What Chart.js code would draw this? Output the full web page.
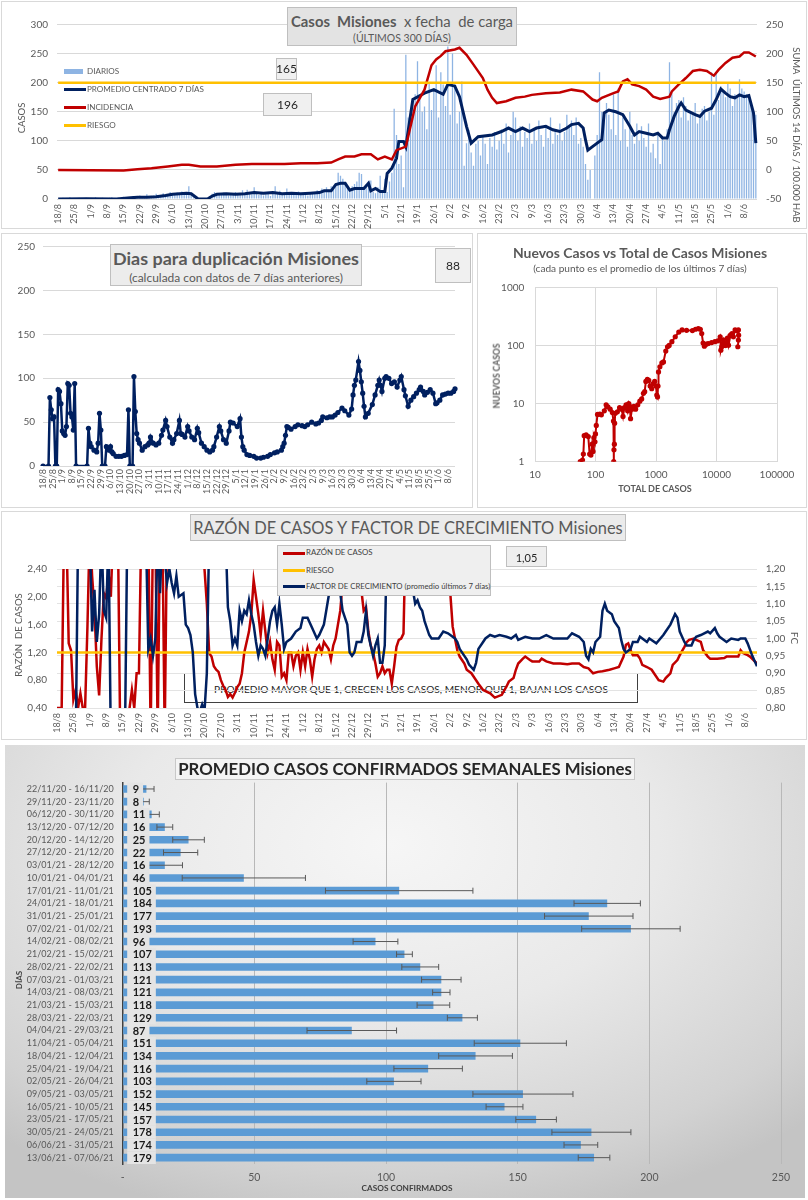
<!DOCTYPE html>
<html><head><meta charset="utf-8">
<script src="https://cdn.jsdelivr.net/npm/chart.js@4.4.0/dist/chart.umd.min.js"></script>
<style>
body{margin:0;width:808px;height:1200px;position:relative;background:#fff;overflow:hidden}
canvas{position:absolute;z-index:2}
</style></head><body>
<script>
// ---------------- DATA ----------------
const weekTicks = ['18/8','25/8','1/9','8/9','15/9','22/9','29/9','6/10','13/10','20/10','27/10','3/11','10/11','17/11','24/11','1/12','8/12','15/12','22/12','29/12','5/1','12/1','19/1','26/1','2/2','9/2','16/2','23/2','2/3','9/3','16/3','23/3','30/3','6/4','13/4','20/4','27/4','4/5','11/5','18/5','25/5','1/6','8/6'];

// casos diarios (barras)
const diarios = [
1,0,2,0,1,3,0,1,0,2, 1,0,2,1,0,1,3,0,1,2, 0,1,2,3,1,0,2,1,4,2,
3,2,5,4,3,6,2,4,8,5, 4,6,9,5,7,10,6,8,12,7, 9,11,8,13,10,12,22,8,3,0,
0,0,1,0,0,5,9,12,8,10, 7,11,9,6,10,8,12,7,9,15, 10,16,12,8,20,9,7,11,6,8,
10,5,12,22,9,14,7,10,18,8, 9,11,7,13,8,10,12,6,9,11, 12,15,10,18,14,20,16,22,18,25,
45,40,35,28,20,15,22,26,30,45, 43,18,25,30,32,12,10,20,40,15, 35,12,30,45,155,110,60,75,20,248,
140,120,165,180,237,171,150,159,120,200, 153,185,230,140,218,197,160,262,145,250, 200,130,150,202,57,96,119,80,57,95,
100,75,110,95,60,105,90,115,85,100, 120,95,130,80,110,150,140,100,125,90, 115,105,130,95,120,100,135,110,90,125,
105,140,95,120,110,130,100,115,145,125, 135,110,140,95,105,90,60,33,50,0, 75,110,218,150,140,165,145,120,180,110,
190,100,140,120,90,150,110,95,130,100, 125,105,90,130,80,95,70,110,60,105, 100,120,235,182,150,165,170,140,175,160,
135,150,145,165,130,140,155,160,135,150, 218,145,215,170,194,185,175,200,190,160, 180,175,206,190,185,180,175,165,140,145];

// promedio centrado 7 días [día, valor]
const promedio7 = [[0,0],[12,0.5],[25,0],[31,2],[34,3],[38,3],[42,4],[46,6],[49,8],[52,9],[55,10],[57,9],[59,3],[60,0],[64,0],[66,5],[68,8],[72,9],[76,8],[80,9],[84,11],[88,10],[92,11],[96,9],[100,10],[104,9],[108,10],[112,11],[114,14],[117,14],[119,25],[121,27],[123,27],[125,15],[127,18],[131,18],[133,27],[134,14],[136,18],[138,13],[140,13],[141,44],[143,53],[145,70],[146,99],[148,99],[149,90],[152,171],[157,182],[161,188],[165,180],[167,197],[170,194],[172,176],[175,125],[177,96],[180,107],[186,110],[190,116],[193,122],[196,116],[199,122],[202,116],[205,122],[209,125],[212,119],[215,116],[218,122],[220,128],[223,130],[225,122],[226,102],[227,84],[229,90],[231,96],[233,102],[234,148],[236,153],[239,150],[242,145],[245,125],[247,110],[249,116],[252,113],[255,110],[257,113],[259,105],[261,105],[262,119],[264,142],[266,159],[267,165],[269,153],[273,145],[275,142],[277,151],[280,156],[282,171],[284,189],[286,182],[288,176],[290,174],[292,179],[294,176],[296,178],[298,148],[299,96]];

// incidencia: suma últimos 14 días / 100.000 hab [día, valor]
const incidencia = [[0,0],[28,-1],[34,1],[40,3],[47,6],[53,9],[56,9],[61,6],[68,6],[76,9],[83,10],[90,10],[97,10],[104,11.5],[111,11.5],[117,12.6],[120,18],[123,23],[127,23],[130,27],[134,27],[137,18],[140,23],[143,18],[145,34],[149,40],[153,109],[157,138],[160,180],[162,190],[164,196],[166,204],[170,207],[172,210],[175,198],[178,181],[182,158],[184,138],[186,124],[188,115],[192,118],[196,124],[200,126],[203,129],[209,132],[215,133],[220,138],[225,135],[229,121],[231,118],[233,124],[238,132],[240,135],[242,152],[244,156],[246,147],[249,144],[252,138],[255,126],[258,122],[262,126],[263,135],[266,147],[269,158],[272,170],[275,172],[278,170],[281,162],[283,172],[286,184],[289,193],[292,195],[294,202],[296,202],[299,195]];
const riesgoIncidencia = 150;
const casosDestacados = ['165','196'];

// días para duplicación [día, valor]
const duplicacion = [[0,0],[4,0],[5,78],[6,64],[7,54],[8,56],[9,0],[10,0],[11,87],[12,85],[13,71],[14,40],[15,37],[16,35],[17,45],[18,94],[19,92],[20,60],[21,56],[22,41],[23,94],[24,0],[32,0],[33,43],[34,26],[35,22],[37,18],[39,16],[40,26],[41,60],[42,41],[43,0],[45,0],[46,22],[48,18],[49,22],[50,16],[51,14],[53,11],[55,11],[57,11],[59,12],[61,13],[62,64],[63,0],[65,0],[66,102],[67,62],[68,37],[69,30],[70,26],[72,18],[74,22],[76,24],[77,26],[78,33],[80,26],[82,24],[84,26],[86,35],[87,41],[89,52],[90,45],[92,33],[94,26],[95,30],[97,37],[99,52],[100,37],[101,36],[103,33],[105,45],[106,40],[108,33],[110,30],[112,43],[113,38],[115,26],[117,22],[119,18],[121,16],[123,18],[124,22],[126,33],[128,45],[129,40],[131,30],[133,26],[135,40],[136,50],[138,49],[141,45],[143,54],[144,33],[145,22],[146,18],[148,13],[150,12],[153,11],[155,9],[158,9],[160,10],[163,11],[165,13],[168,15],[170,16],[173,18],[174,22],[175,26],[176,35],[177,45],[178,44],[180,42],[183,45],[185,47],[188,46],[190,45],[192,47],[195,50],[198,48],[200,49],[202,52],[203,56],[206,55],[208,56],[210,56],[212,58],[214,61],[217,66],[219,63],[222,58],[224,65],[225,81],[226,92],[227,98],[229,119],[230,109],[231,96],[232,83],[233,68],[234,56],[236,60],[239,70],[241,81],[243,92],[244,98],[245,92],[246,85],[248,100],[249,102],[251,100],[253,94],[255,96],[257,90],[259,98],[260,102],[262,87],[263,80],[265,68],[267,75],[269,79],[271,83],[273,87],[274,90],[276,85],[277,81],[279,84],[281,87],[283,83],[285,71],[286,72],[288,75],[290,81],[292,82],[294,83],[296,83],[298,85],[299,88]];
const duplicacionActual = '88';

// nuevos casos vs total [total, nuevos]
const nuevosVsTotal = [[56,1.0],[61,1.07],[63,1.35],[65,2.8],[70,2.9],[76,2.7],[80,1.35],[84,1.3],[88,2.0],[91,1.5],[94,2.6],[98,2.2],[100,3.0],[103,4.2],[108,6.5],[118,6.6],[125,6.4],[140,7.5],[150,9.5],[160,8.8],[175,8.0],[190,7.0],[198,5.0],[200,1.0],[202,1.6],[205,2.0],[207,4.6],[212,6.8],[230,7.2],[250,8.5],[270,8.0],[285,6.0],[300,8.5],[320,9.5],[340,7.5],[355,10],[370,9.0],[380,5.5],[400,8.0],[430,9.0],[460,8.0],[500,9.5],[540,11],[580,12],[620,15],[650,16],[680,24],[720,26],[760,25],[800,20],[850,18],[900,22],[950,24],[1000,20],[1030,14],[1060,13],[1080,20],[1100,35],[1160,43],[1250,50],[1330,52],[1450,80],[1550,95],[1650,100],[1830,116],[2080,141],[2380,170],[2700,185],[3200,182],[4000,180],[4500,190],[5000,195],[5400,190],[5700,160],[6000,110],[6300,97],[6800,105],[7300,108],[8300,112],[9400,116],[10500,120],[11500,141],[11800,83],[12200,95],[13000,124],[13500,110],[14000,100],[15000,133],[15800,101],[17000,150],[18000,160],[19000,141],[20300,185],[21500,180],[23000,185],[23200,150],[23000,124],[22500,95]];
const logXTicks = [10,100,1000,10000,100000];
const logYTicks = [1,10,100,1000];

// razón de casos y factor de crecimiento [día, valor]
const razon = [[0,0.4],[1,0.4],[2,0.4],[3,3],[4,3],[5,1.33],[6,1.23],[7,0.52],[8,0.66],[9,0.4],[10,0.61],[11,0.4],[12,0.4],[13,1.57],[14,3],[15,2.3],[16,1.81],[17,1.0],[18,0.58],[19,1.4],[20,2.05],[21,1.98],[22,2.34],[23,2.0],[24,3],[26,3],[27,0],[30,0],[31,0.4],[32,0.66],[33,0.4],[34,0.9],[35,0.9],[36,3],[39,3],[40,0],[41,3],[42,3],[43,0],[44,3],[45,3],[46,0],[47,3],[62,3],[63,2.4],[64,1.9],[65,1.19],[66,1.14],[67,1.0],[68,0.95],[69,0.92],[70,0.8],[71,0.72],[72,0.66],[73,0.56],[74,0.6],[75,0.55],[76,0.62],[77,0.7],[78,0.75],[79,0.9],[80,1.2],[81,1.35],[82,1.5],[83,1.75],[84,2.24],[85,2.0],[86,1.75],[87,1.45],[88,1.8],[89,1.5],[90,1.2],[91,1.35],[92,1.1],[93,0.95],[94,1.35],[95,1.3],[96,0.85],[97,0.9],[98,0.8],[99,1.2],[100,1.2],[101,1.0],[102,1.15],[103,1.2],[104,0.95],[105,1.2],[106,1.0],[107,1.25],[108,1.1],[109,0.85],[110,1.1],[111,1.25],[112,1.3],[113,1.2],[114,1.35],[115,1.3],[116,1.25],[117,1.1],[118,1.3],[119,1.4],[120,1.6],[121,1.8],[122,2.2],[123,3],[129,3],[130,2.1],[131,1.8],[132,1.85],[133,1.5],[134,1.3],[135,1.2],[136,1.04],[137,0.85],[138,0.9],[139,1.0],[140,0.9],[141,0.95],[142,0.95],[143,0.75],[144,1.0],[145,1.28],[146,1.38],[147,1.4],[148,1.47],[149,3],[167,3],[168,2.05],[169,1.57],[171,1.23],[172,1.14],[174,1.04],[175,0.95],[177,0.9],[178,0.85],[180,0.75],[182,0.66],[185,0.61],[187,0.55],[190,0.59],[192,0.71],[193,0.78],[195,0.83],[196,0.95],[197,1.04],[199,1.11],[200,1.14],[202,1.09],[203,1.07],[206,1.07],[207,1.11],[209,1.07],[212,1.04],[215,1.04],[218,1.03],[220,1.04],[223,1.04],[225,0.99],[227,0.97],[229,0.9],[231,0.92],[233,0.93],[236,0.95],[238,0.97],[240,0.99],[242,1.14],[243,1.31],[244,1.33],[245,1.23],[246,1.16],[248,1.16],[249,1.11],[250,1.02],[252,0.99],[254,0.95],[255,0.9],[257,0.8],[259,0.78],[260,0.83],[262,0.9],[263,1.02],[265,1.09],[266,1.16],[268,1.28],[269,1.35],[270,1.38],[272,1.4],[273,1.38],[275,1.35],[276,1.23],[278,1.14],[279,1.11],[282,1.11],[285,1.12],[286,1.14],[291,1.14],[292,1.23],[293,1.19],[295,1.16],[296,1.14],[299,1.04]];
const factor = [[0,0.7],[8,0.7],[9,1.3],[14,1.3],[15,1.02],[16,1.14],[17,0.99],[18,1.07],[19,1.3],[20,1.08],[21,1.06],[22,1.3],[23,0.7],[29,0.7],[30,1.3],[38,1.3],[39,0.97],[40,1.0],[41,0.95],[42,1.0],[43,1.3],[44,1.13],[45,1.3],[47,1.16],[48,1.2],[49,1.16],[50,1.13],[51,1.18],[52,1.12],[54,1.13],[55,1.04],[56,1.03],[57,1.01],[58,0.96],[59,0.84],[60,0.8],[61,0.79],[62,0.81],[63,0.79],[64,0.9],[65,1.3],[72,1.3],[73,1.09],[74,1.05],[75,0.98],[76,1.0],[77,0.98],[78,1.08],[79,1.05],[80,1.08],[81,1.07],[82,1.11],[83,1.07],[84,1.04],[85,0.99],[86,0.95],[87,0.98],[88,0.97],[89,0.95],[90,1.0],[91,1.05],[92,1.08],[93,1.09],[94,1.04],[95,1.1],[96,1.04],[97,0.97],[98,0.99],[100,1.0],[102,1.02],[104,1.03],[105,1.06],[107,1.06],[109,1.03],[111,1.0],[112,1.01],[114,1.04],[115,1.08],[116,1.12],[117,1.16],[119,1.16],[120,1.2],[121,1.13],[122,1.08],[123,1.06],[124,1.04],[125,0.96],[126,0.95],[127,0.96],[128,0.99],[130,0.99],[131,1.02],[132,1.08],[133,1.01],[134,0.98],[135,0.95],[136,0.98],[137,1.0],[138,0.93],[139,0.93],[140,0.98],[141,1.3],[151,1.3],[152,1.14],[153,1.1],[154,1.11],[155,1.09],[156,1.08],[157,1.05],[159,1.01],[160,1.0],[163,1.0],[165,1.02],[167,1.015],[170,1.0],[171,0.99],[172,0.97],[174,0.95],[175,0.94],[176,0.925],[178,0.91],[179,0.93],[180,0.97],[182,0.99],[183,1.0],[185,1.01],[187,1.005],[189,1.01],[192,1.005],[194,1.0],[196,1.01],[197,0.996],[200,1.005],[203,1.0],[206,1.0],[209,1.01],[212,1.0],[215,1.0],[218,1.0],[220,1.015],[223,1.005],[225,0.99],[226,0.95],[227,0.94],[228,0.97],[229,0.96],[230,0.99],[232,1.005],[233,1.08],[234,1.1],[235,1.08],[237,1.07],[238,1.05],[240,1.03],[241,0.996],[242,0.97],[243,0.96],[245,0.97],[246,0.99],[248,0.99],[249,1.005],[252,0.99],[253,1.0],[256,0.986],[259,1.01],[260,1.02],[262,1.04],[264,1.07],[265,1.06],[266,1.02],[268,0.99],[269,0.98],[271,0.98],[272,0.996],[273,1.005],[275,1.01],[278,1.02],[279,1.015],[281,1.03],[282,1.015],[283,1.005],[286,0.99],[288,1.0],[291,0.996],[292,1.0],[294,1.0],[295,0.986],[297,0.95],[299,0.92]];
const riesgoRazon = 1.2;
const razonTicks = [0.4,0.6,0.8,1.0,1.2,1.4,1.6,1.8,2.0,2.2,2.4];
const factorTicks = [0.8,0.85,0.9,0.95,1.0,1.05,1.1,1.15,1.2];
const factorActual = '1,05';

// promedio semanal
const semanas = ['22/11/20 - 16/11/20','29/11/20 - 23/11/20','06/12/20 - 30/11/20','13/12/20 - 07/12/20','20/12/20 - 14/12/20','27/12/20 - 21/12/20','03/01/21 - 28/12/20','10/01/21 - 04/01/21','17/01/21 - 11/01/21','24/01/21 - 18/01/21','31/01/21 - 25/01/21','07/02/21 - 01/02/21','14/02/21 - 08/02/21','21/02/21 - 15/02/21','28/02/21 - 22/02/21','07/03/21 - 01/03/21','14/03/21 - 08/03/21','21/03/21 - 15/03/21','28/03/21 - 22/03/21','04/04/21 - 29/03/21','11/04/21 - 05/04/21','18/04/21 - 12/04/21','25/04/21 - 19/04/21','02/05/21 - 26/04/21','09/05/21 - 03/05/21','16/05/21 - 10/05/21','23/05/21 - 17/05/21','30/05/21 - 24/05/21','06/06/21 - 31/05/21','13/06/21 - 07/06/21'];
const semanalProm = [9,8,11,16,25,22,16,46,105,184,177,193,96,107,113,121,121,118,129,87,151,134,116,103,152,145,157,178,174,179];
const semanalErr = [2.9,2.1,2.9,3,6,6.5,6.7,23.4,28,12.6,16.8,18.7,8.5,3,7,7.5,3.3,6.2,5.7,17,17.5,14,13,10.3,19,7,7.7,15,6.4,6];
const semanalTicks = [0,50,100,150,200,250];

// ---------------- HELPERS ----------------
const FONT = "Lato, 'Open Sans', sans-serif";
Chart.defaults.font.family = FONT;
Chart.defaults.color = '#595959';
const NAVY = '#002060', RED = '#c00000', YEL = '#ffc000';
const dayIdx = diarios.map((_, i) => i);
const pts = a => a.map(([x, y]) => ({x, y}));
const mctx = document.createElement('canvas').getContext('2d');
function fit(str, wt, w) { mctx.font = `${wt} 100px ${FONT}`; return 100 * w / mctx.measureText(str).width; }
function addText(str, o) {
  const d = document.createElement('div');
  d.textContent = str;
  const wt = o.weight || 'normal';
  const size = o.w ? fit(str, wt, o.w) : o.size;
  const tx = o.align === 'left' ? '0' : '-50%';
  Object.assign(d.style, {position:'absolute', left:o.x+'px', top:o.y+'px', font:`${wt} ${size}px ${FONT}`,
    color:o.color || '#595959', whiteSpace:'pre', lineHeight:'1',
    transform:`translate(${tx},-50%)` + (o.rot ? ` rotate(${o.rot}deg)` : ''), zIndex:o.z || 3});
  document.body.appendChild(d);
  return size;
}
function addBox(x, y, w, h, bg, border, z) {
  const d = document.createElement('div');
  Object.assign(d.style, {position:'absolute', left:x+'px', top:y+'px', width:w+'px', height:h+'px',
    background:bg, border:border ? `1px solid ${border}` : 'none', boxSizing:'border-box', zIndex:z});
  document.body.appendChild(d);
  return d;
}
function addCanvas(x, y, w, h) {
  const c = document.createElement('canvas');
  c.width = w; c.height = h;
  Object.assign(c.style, {left:x+'px', top:y+'px', width:w+'px', height:h+'px'});
  document.body.appendChild(c);
  return c;
}
function swatch(x, y, w, h, color) { addBox(x, y - h/2, w, h, color, null, 3); }
function dayAxis(height, offset, pad) {
  return {type:'category', offset, grid:{display:false, drawTicks:false}, border:{display:false},
    afterBuildTicks: s => { s.ticks = s.ticks.filter(t => t.value % 7 === 0); },
    afterFit: s => { s.height = height; },
    ticks:{autoSkip:false, minRotation:90, maxRotation:90, padding:pad, font:{size:9}, color:'#595959',
      callback: v => weekTicks[v / 7]}};
}
const fixTicks = arr => s => { s.ticks = arr.map(v => ({value:v})); };
const comma = v => v.toFixed(2).replace('.', ',');
const base = {responsive:false, animation:false, events:[], devicePixelRatio:1,
  plugins:{legend:{display:false}, tooltip:{enabled:false}}};

// ---------------- CHART 1 ----------------
addBox(1, 1, 806, 228, '#fff', '#d9d9d9', 0);
new Chart(addCanvas(0, 0, 808, 230), {
  type:'bar',
  data:{labels:dayIdx, datasets:[
    {type:'line', data:[{x:0, y:riesgoIncidencia}, {x:dayIdx.length-1, y:riesgoIncidencia}], yAxisID:'yR', borderColor:YEL, borderWidth:2.5, pointRadius:0, order:0},
    {type:'line', data:pts(incidencia), yAxisID:'yR', borderColor:RED, borderWidth:2.5, pointRadius:0, order:1},
    {type:'line', data:pts(promedio7), yAxisID:'y', borderColor:NAVY, borderWidth:3, pointRadius:0, order:2},
    {type:'bar', data:diarios, yAxisID:'y', backgroundColor:'#8eb4e3', barPercentage:0.55, categoryPercentage:1, order:3}
  ]},
  options:{...base, layout:{padding:{top:24.5, right:0, left:0, bottom:0}},
    scales:{
      x:dayAxis(31, true, 5),
      y:{position:'left', min:0, max:300, ticks:{stepSize:50, padding:9, font:{size:10}},
         grid:{color:'#d9d9d9', drawTicks:false}, border:{display:false}, afterFit: s => { s.width = 57; }},
      yR:{position:'right', min:-50, max:250, ticks:{stepSize:50, padding:9, font:{size:10}},
         grid:{display:false, drawTicks:false}, border:{display:false}, afterFit: s => { s.width = 51; }}
    }}
});
addBox(287, 7, 230, 39, '#e3e3e3', '#bfbfbf', 3);
(function(){
  mctx.font = `bold 100px ${FONT}`; const a = mctx.measureText('Casos  Misiones').width;
  mctx.font = `normal 100px ${FONT}`; const b = mctx.measureText('  x fecha  de carga').width;
  const s = 100 * 222 / (a + b);
  const d = document.createElement('div');
  d.innerHTML = '<b>Casos  Misiones</b>  x fecha  de carga';
  Object.assign(d.style, {position:'absolute', left:'402px', top:'21px', font:`normal ${s}px ${FONT}`, color:'#595959', whiteSpace:'pre', lineHeight:'1', transform:'translate(-50%,-50%)', zIndex:3});
  document.body.appendChild(d);
})();
addText('(ÚLTIMOS 300 DÍAS)', {x:402, y:38, w:98});
addText('CASOS', {x:22, y:118, size:9.5, rot:-90});
addText('SUMA  ÚLTIMOS 14 DÍAS / 100.000 HAB', {x:796, y:135, w:176, rot:90});
swatch(64, 71.5, 19, 5, '#8eb4e3');
swatch(64, 89, 22, 3, NAVY);
swatch(64, 107, 22, 3, RED);
swatch(64, 125, 22, 3, YEL);
const lg1 = addText('PROMEDIO CENTRADO 7 DÍAS', {x:87, y:89, w:117, align:'left'});
addText('DIARIOS', {x:87, y:71, size:lg1, align:'left'});
addText('INCIDENCIA', {x:87, y:107, size:lg1, align:'left'});
addText('RIESGO', {x:87, y:125, size:lg1, align:'left'});
addBox(276, 58, 21, 22, '#f0f0f0', '#bfbfbf', 3);
addText(casosDestacados[0], {x:286.5, y:69, size:12, color:'#262626'});
addBox(263, 93, 49, 23, '#f0f0f0', '#bfbfbf', 3);
addText(casosDestacados[1], {x:287.5, y:104.5, size:12, color:'#262626'});

// ---------------- CHART 2 ----------------
addBox(1, 233, 472, 275, '#fff', '#d9d9d9', 0);
new Chart(addCanvas(0, 232, 475, 278), {
  type:'line',
  data:{labels:dayIdx, datasets:[
    {data:pts(duplicacion), borderColor:NAVY, backgroundColor:NAVY, borderWidth:2.5, pointRadius:2.6, pointBorderWidth:0}
  ]},
  options:{...base, layout:{padding:{top:14.7, right:20, left:0, bottom:0}},
    scales:{
      x:dayAxis(44, false, 3),
      y:{min:0, max:250, ticks:{stepSize:50, padding:8, font:{size:10}}, grid:{color:'#d9d9d9', drawTicks:false},
         border:{display:false}, afterFit: s => { s.width = 43; }}
    }}
});
addBox(110, 244, 252, 42, '#ececec', '#bfbfbf', 3);
addText('Dias para duplicación Misiones', {x:236, y:259, w:246, weight:'bold'});
addText('(calculada con datos de 7 días anteriores)', {x:236, y:278, w:214});
addBox(435, 248, 36, 35, '#f0f0f0', '#bfbfbf', 3);
addText(duplicacionActual, {x:453, y:265.5, size:12, color:'#262626'});

// ---------------- CHART 3 ----------------
addBox(477, 233, 330, 275, '#fff', '#d9d9d9', 0);
new Chart(addCanvas(477, 232, 331, 278), {
  type:'scatter',
  data:{datasets:[
    {data:pts(nuevosVsTotal), showLine:true, borderColor:RED, backgroundColor:RED, borderWidth:2, pointRadius:2.6, pointBorderWidth:0}
  ]},
  options:{...base, layout:{padding:{top:55.3, right:31, left:0, bottom:0}},
    scales:{
      x:{type:'logarithmic', min:10, max:100000, afterBuildTicks:fixTicks(logXTicks),
         ticks:{callback: v => String(v), padding:7, font:{size:10}}, grid:{color:'#d9d9d9', drawTicks:false},
         border:{color:'#d9d9d9'}, afterFit: s => { s.height = 48.3; }},
      y:{type:'logarithmic', min:1, max:1000, afterBuildTicks:fixTicks(logYTicks),
         ticks:{callback: v => String(v), padding:10.7, font:{size:10}}, grid:{color:'#d9d9d9', drawTicks:false},
         border:{color:'#d9d9d9'}, afterFit: s => { s.width = 58; }}
    }}
});
addText('Nuevos Casos vs Total de Casos Misiones', {x:640, y:252.7, w:255, weight:'bold'});
addText('(cada punto es el promedio de los últimos 7 días)', {x:640, y:267.7, w:214});
addText('NUEVOS CASOS', {x:497, y:375.5, w:65, weight:'bold', rot:-90});
addText('TOTAL DE CASOS', {x:655, y:489.3, w:74, weight:'bold'});

// ---------------- CHART 4 ----------------
addBox(1, 511, 806, 229, '#fff', '#d9d9d9', 0);
addBox(184, 673, 454, 30, 'transparent', '#404040', 1);
addText('PROMEDIO MAYOR QUE 1, CRECEN LOS CASOS, MENOR QUE 1, BAJAN LOS CASOS', {x:411, y:689, w:394, color:'#262626', z:1});
new Chart(addCanvas(0, 510, 808, 230), {
  type:'line',
  data:{labels:dayIdx, datasets:[
    {data:pts(factor), yAxisID:'yF', borderColor:NAVY, borderWidth:2.5, pointRadius:0, clip:0, order:0},
    {data:[{x:0, y:riesgoRazon}, {x:dayIdx.length-1, y:riesgoRazon}], yAxisID:'y', borderColor:YEL, borderWidth:2.5, pointRadius:0, clip:0, order:1},
    {data:pts(razon), yAxisID:'y', borderColor:RED, borderWidth:2.5, pointRadius:0, clip:0, order:2}
  ]},
  options:{...base, layout:{padding:{top:59, right:0, left:0, bottom:0}},
    scales:{
      x:dayAxis(32, false, 5),
      y:{position:'left', min:0.4, max:2.4, afterBuildTicks:fixTicks(razonTicks), ticks:{callback:comma, padding:10, font:{size:10}},
         grid:{display:false, drawTicks:false}, border:{display:false}, afterFit: s => { s.width = 57; }},
      yF:{position:'right', min:0.8, max:1.2, afterBuildTicks:fixTicks(factorTicks), ticks:{callback:comma, padding:8.7, font:{size:10}},
         grid:{color:'#e3e3e3', drawTicks:false}, border:{display:false}, afterFit: s => { s.width = 51; }}
    }}
});
addBox(190, 514, 436, 27, '#ebebeb', '#bfbfbf', 3);
addText('RAZÓN DE CASOS Y FACTOR DE CRECIMIENTO Misiones', {x:408, y:528, w:431});
addBox(277, 545, 214, 51, '#efefef', '#bfbfbf', 3);
swatch(283, 553.3, 22, 2.5, RED);
swatch(283, 570.7, 22, 2.5, YEL);
swatch(283, 586.7, 22, 2.5, NAVY);
addText('RAZÓN DE CASOS', {x:306, y:553.3, size:7.8, align:'left', color:'#404040'});
addText('RIESGO', {x:306, y:570.7, size:7.8, align:'left', color:'#404040'});
addText('FACTOR DE CRECIMIENTO (promedio últimos 7 días)', {x:306, y:586.7, size:7.8, align:'left', color:'#404040'});
addBox(506, 546, 41, 21, '#efefef', '#bfbfbf', 3);
addText(factorActual, {x:526.5, y:556.5, size:11, color:'#262626'});
addText('RAZÓN  DE CASOS', {x:19, y:635, size:9.5, rot:-90});
addText('FC', {x:795, y:638, size:10, rot:90});

// ---------------- CHART 5 ----------------
addBox(5, 745, 800, 453, 'radial-gradient(ellipse 75% 85% at 48% 22%, #f6f6f6 0%, #e9e9e9 45%, #d2d2d2 85%, #c4c4c4 100%)', null, 0);
const barDeco = {
  id:'barDeco',
  afterDatasetsDraw(chart) {
    const {ctx, scales:{x}} = chart;
    const meta = chart.getDatasetMeta(0);
    const x0 = x.getPixelForValue(0);
    ctx.save();
    ctx.font = `bold 11px ${FONT}`;
    ctx.textBaseline = 'middle'; ctx.textAlign = 'left';
    meta.data.forEach((bar, i) => {
      const v = semanalProm[i], e = semanalErr[i], cy = bar.y;
      const xa = x.getPixelForValue(v - e), xb = x.getPixelForValue(v + e);
      ctx.strokeStyle = '#595959'; ctx.lineWidth = 1;
      ctx.beginPath();
      ctx.moveTo(xa, cy); ctx.lineTo(xb, cy);
      ctx.moveTo(xa, cy - 3); ctx.lineTo(xa, cy + 3);
      ctx.moveTo(xb, cy - 3); ctx.lineTo(xb, cy + 3);
      ctx.stroke();
      const t = String(v), w = ctx.measureText(t).width;
      ctx.fillStyle = '#e4e4e4';
      ctx.fillRect(x0 + 4.5, cy - 6.36, w + 9.5, 12.72);
      ctx.fillStyle = '#1a1a1a';
      ctx.fillText(t, x0 + 10, cy + 0.5);
    });
    ctx.restore();
  }
};
new Chart(addCanvas(5, 745, 800, 453), {
  type:'bar',
  data:{labels:semanas, datasets:[
    {data:semanalProm, backgroundColor:'#5b9bd5', barPercentage:0.6, categoryPercentage:1}
  ]},
  options:{...base, indexAxis:'y', layout:{padding:{top:37.6, right:24, left:0, bottom:0}},
    scales:{
      x:{min:0, max:250, afterBuildTicks:fixTicks(semanalTicks), ticks:{callback: v => v === 0 ? '-' : String(v), padding:7, font:{size:10.5}},
         grid:{color:'#b8b8b8', drawTicks:false}, border:{display:false}, afterFit: s => { s.height = 34; }},
      y:{ticks:{padding:9, font:{size:9}, color:'#595959', autoSkip:false}, grid:{display:false, drawTicks:false},
         border:{color:'#404040', width:1.5}, afterFit: s => { s.width = 117.7; }}
    }},
  plugins:[barDeco]
});
addBox(175, 758, 460, 22, '#f4f4f4', '#c8c8c8', 3);
addText('PROMEDIO CASOS CONFIRMADOS SEMANALES Misiones', {x:405, y:769, w:454, weight:'bold', color:'#262626'});
addText('DÍAS', {x:19, y:980, size:8, weight:'bold', rot:-90, color:'#404040'});
addText('CASOS CONFIRMADOS', {x:407, y:1188, w:91, weight:'bold', color:'#404040'});
</script>
</body></html>
